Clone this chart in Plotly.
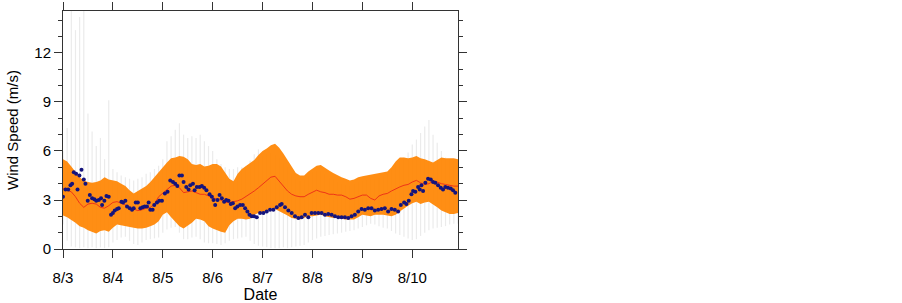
import plotly.graph_objects as go

# ---- data (hours since 8/3 00:00, wind speed m/s) ----
day_labels = ["8/3", "8/4", "8/5", "8/6", "8/7", "8/8", "8/9", "8/10"]
day_hours = [0, 24, 48, 72, 96, 120, 144, 168]

band_hours = list(range(0, 191, 2))

ens_upper = [
    5.5, 5.35, 5.05, 4.75, 4.4, 4.2, 4.1, 4.05, 4.1, 4.2, 4.4, 4.25,
    4.2, 4.15, 4.0, 3.85, 3.6, 3.4, 3.55, 3.7, 3.85, 4.1, 4.4, 4.75,
    5.0, 5.3, 5.55, 5.6, 5.7, 5.65, 5.5, 5.2, 5.15, 5.2, 5.05, 5.1,
    5.2, 5.2, 5.05, 4.7, 4.3, 4.15, 4.6, 4.9, 5.1, 5.3, 5.45, 5.75,
    6.0, 6.15, 6.35, 6.45, 6.2, 5.85, 5.45, 5.0, 4.65, 4.5, 4.5, 4.75,
    4.95, 5.1, 5.15, 4.95, 4.8, 4.65, 4.5, 4.4, 4.3, 4.2, 4.25, 4.4,
    4.45, 4.5, 4.55, 4.6, 4.65, 4.7, 4.75, 5.0, 5.35, 5.6, 5.6, 5.55,
    5.6, 5.7, 5.55, 5.5, 5.4, 5.3, 5.45, 5.6, 5.55, 5.55, 5.55, 5.5,
]
ens_lower = [
    2.05, 1.95, 1.8, 1.6, 1.4, 1.3, 1.15, 1.05, 0.95, 1.1, 1.15, 1.05,
    1.3, 1.5, 1.45, 1.4, 1.35, 1.3, 1.25, 1.25, 1.3, 1.4, 1.5, 1.7,
    2.1, 2.25, 1.95, 1.65, 1.4, 1.25, 1.4, 1.6, 1.85, 1.8, 1.7, 1.4,
    1.25, 1.15, 1.05, 1.0, 1.45, 1.7, 1.85, 1.85, 1.8, 1.85, 2.1, 2.2,
    2.25, 2.3, 2.5, 2.45, 2.3, 2.2, 2.05, 1.9, 1.85, 1.8, 1.9, 2.0,
    2.0, 2.05, 2.1, 2.0, 1.95, 1.9, 1.9, 1.85, 1.8, 1.8, 1.8, 1.95,
    2.1, 2.05, 2.0, 2.1, 2.1, 2.1, 2.05, 2.0, 2.1, 2.3, 2.5, 2.65,
    2.8, 2.9, 2.75, 2.85, 2.9, 2.75, 2.55, 2.35, 2.25, 2.15, 2.15, 2.2,
]
ens_mean = [
    3.7, 3.6, 3.5, 3.2, 2.8, 2.55, 2.75, 2.8, 2.75, 2.55, 2.5, 2.65,
    2.85, 2.9, 2.8, 2.7, 2.55, 2.45, 2.35, 2.4, 2.5, 2.55, 2.75, 3.2,
    3.4, 3.6, 3.85, 3.9, 3.75, 3.45, 3.5, 3.55, 3.45, 3.35, 3.35, 3.25,
    3.15, 3.05, 3.0, 2.85, 2.85, 2.9, 2.95, 3.05, 3.2, 3.35, 3.55, 3.75,
    3.95, 4.15, 4.4, 4.45, 4.15, 3.85, 3.55, 3.35, 3.25, 3.2, 3.2, 3.35,
    3.45, 3.6, 3.5, 3.45, 3.35, 3.35, 3.3, 3.3, 3.2, 3.05, 3.1, 3.2,
    3.3, 3.3, 3.1, 3.0, 3.25, 3.35, 3.4, 3.55, 3.7, 3.8, 3.9, 3.95,
    4.1, 4.2, 4.05, 3.95, 4.0, 4.15, 4.1, 4.0, 3.95, 3.9, 3.85, 3.85,
]
member_max = [
    6.0, 7.4, 15.0, 13.4, 14.2, 15.0, 8.3, 7.2, 6.3, 6.8, 5.5, 9.1,
    4.9, 4.7, 4.5, 4.4, 4.3, 4.2, 4.3, 4.4, 4.6, 4.7, 4.9, 5.1,
    5.5, 6.6, 6.9, 7.3, 7.7, 7.0, 6.8, 6.9, 6.8, 7.0, 6.6, 6.3,
    6.0, 5.5, 5.2, 5.0, 4.9, 4.9, 5.0, 5.0, 5.1, 5.4, 5.8, 6.1,
    5.7, 5.8, 5.9, 5.8, 5.6, 5.3, 5.0, 4.6, 4.3, 4.2, 4.3, 4.5,
    4.7, 4.8, 4.8, 4.6, 4.4, 4.3, 4.1, 4.0, 3.9, 3.9, 4.0, 4.1,
    4.2, 4.2, 4.3, 4.3, 4.4, 4.5, 4.6, 4.9, 5.2, 5.4, 5.6, 5.9,
    6.4, 6.7, 7.1, 7.5, 7.9, 7.0, 6.5, 6.0, 5.6, 5.5, 5.4, 5.3,
]
member_min = [
    1.5, 0.5, 0.15, 0.1, 0.05, 0.1, 0.05, 0.1, 0.05, 0.1, 0.05, 0.1,
    0.4, 0.55, 0.7, 0.75, 0.5, 0.3, 0.25, 0.4, 0.55, 0.6, 0.65, 0.7,
    1.0, 1.2, 1.3, 1.35, 1.0, 0.6, 0.6, 0.7, 0.75, 0.6, 0.4, 0.35,
    0.35, 0.3, 0.25, 0.35, 0.5, 0.6, 0.65, 0.7, 0.75, 0.5, 0.3, 0.2,
    0.15, 0.1, 0.05, 0.05, 0.05, 0.1, 0.05, 0.1, 0.15, 0.2, 0.25, 0.4,
    0.55, 0.65, 0.75, 0.8, 0.85, 0.9, 0.95, 1.0, 1.05, 1.1, 1.15, 1.25,
    1.35, 1.45, 1.55, 1.5, 1.4, 1.3, 1.25, 1.1, 0.95, 0.85, 0.75, 0.65,
    0.55, 0.6, 0.8, 1.0, 1.15, 1.25, 1.3, 1.35, 1.4, 1.5, 1.55, 1.55,
]

obs_hours = [
    0.0, 1.2, 2.5, 3.6, 4.4, 5.2, 6.3, 7.0, 7.9, 8.9, 10.0, 10.8, 11.9, 12.9,
    14.0, 15.1, 16.0, 17.2, 18.3, 18.8, 19.9, 20.9, 22.0, 23.1, 24.0, 24.9,
    26.0, 26.8, 28.1, 28.9, 30.0, 30.8, 32.1, 33.2, 34.0, 35.0, 36.0, 37.2,
    38.3, 39.3, 40.4, 41.2, 42.0, 43.1, 43.9, 45.2, 46.3, 47.6,
    49.0, 50.3, 51.6, 52.9, 54.0, 55.0, 56.0, 57.2, 58.0, 59.3, 60.4, 61.2,
    62.5, 63.3, 64.4, 65.7, 66.8, 67.9, 69.0, 70.5, 71.6, 72.4, 73.2, 74.3,
    75.3, 76.4, 77.5, 78.5, 79.6, 80.7, 81.7, 82.8, 83.9, 85.2, 86.5, 87.6,
    88.7, 89.7, 90.8, 91.9, 93.2,
    94.8, 96.4, 98.0, 99.6, 101.2, 102.8, 104.4, 105.2, 106.8, 108.4, 110.0,
    111.6, 113.2, 114.8, 116.4, 118.0, 119.6, 121.2, 122.8, 124.4, 126.0,
    127.6, 129.2, 130.8, 132.4, 134.0, 135.6, 137.2, 138.8, 140.4, 142.0,
    143.6, 145.2, 146.8,
    148.4, 150.0, 151.6, 153.2, 154.8, 156.4, 158.0, 159.6, 161.2, 162.5,
    164.1, 165.2, 166.3, 167.6, 168.4, 169.5, 170.8, 171.6, 172.4, 173.2,
    174.3, 175.6, 176.9, 178.0, 179.1, 180.4, 181.7, 182.8, 183.9, 185.2,
    186.5, 187.6, 188.7,
]
obs_speed = [
    3.2, 3.65, 3.65, 3.9, 4.0, 4.7, 4.6, 3.65, 4.5, 4.85, 4.25, 4.0, 2.95, 3.3,
    3.1, 3.05, 2.95, 3.0, 3.1, 2.7, 2.95, 3.25, 3.2, 2.1, 2.2, 2.35,
    2.45, 2.5, 2.9, 2.85, 2.95, 2.6, 2.5, 2.4, 2.5, 2.85, 2.85, 2.5,
    2.55, 2.6, 2.6, 2.85, 2.4, 2.4, 2.7, 2.85, 2.95, 2.95,
    3.4, 3.5, 4.2, 4.1, 4.0, 3.85, 4.5, 4.5, 4.1, 3.8, 3.65, 3.9,
    4.0, 3.6, 3.8, 3.8, 3.85, 3.75, 3.6, 3.35, 3.2, 3.0, 2.7, 3.0,
    3.3, 3.1, 2.9, 3.0, 2.95, 2.75, 2.8, 2.5, 2.6, 2.7, 2.7, 2.5,
    2.3, 2.1, 2.0, 2.0, 1.95,
    2.2, 2.2, 2.3, 2.4, 2.4, 2.55, 2.7, 2.75, 2.55, 2.35, 2.2,
    2.0, 1.9, 1.95, 2.1, 1.95, 2.2, 2.2, 2.2, 2.2, 2.1,
    2.15, 2.1, 2.0, 1.95, 1.95, 1.95, 1.9, 2.0, 2.1, 2.3,
    2.45, 2.4, 2.5,
    2.5, 2.35, 2.4, 2.45, 2.5, 2.3, 2.45, 2.4, 2.3, 2.7,
    2.85, 2.75, 2.95, 3.35, 3.55, 3.5, 3.8, 3.65, 3.9, 3.55,
    4.05, 4.3, 4.25, 4.1, 4.05, 3.9, 3.75, 3.65, 3.8, 3.75,
    3.7, 3.6, 3.45,
]

# ---- figure ----
fig = go.Figure()

# member spread: thin light-gray vertical bars
bx, by = [], []
for h, lo, hi in zip(band_hours, member_min, member_max):
    bx += [h, h, None]
    by += [lo, hi, None]
fig.add_trace(go.Scatter(x=bx, y=by, mode="lines",
                         line=dict(color="#ebebeb", width=1.2),
                         hoverinfo="skip", showlegend=False))

# ensemble band
fig.add_trace(go.Scatter(x=band_hours + band_hours[::-1],
                         y=ens_upper + ens_lower[::-1],
                         fill="toself", fillcolor="rgba(255,132,0,0.92)",
                         line=dict(width=0), mode="lines",
                         hoverinfo="skip", showlegend=False))

# ensemble mean
fig.add_trace(go.Scatter(x=band_hours, y=ens_mean, mode="lines",
                         line=dict(color="#ee3418", width=1),
                         showlegend=False))

# observations
fig.add_trace(go.Scatter(x=obs_hours, y=obs_speed, mode="markers",
                         marker=dict(color="#14147d", size=4),
                         showlegend=False))

font_family = "Liberation Sans, Arial, Helvetica, sans-serif"

fig.update_layout(
    width=902, height=303,
    margin=dict(l=62.5, r=444, t=11, b=54),
    plot_bgcolor="white", paper_bgcolor="white",
    font=dict(family=font_family, size=15, color="black"),
    showlegend=False,
)
fig.update_xaxes(
    range=[0, 190], tickvals=day_hours, ticktext=day_labels,
    showgrid=False, zeroline=False, automargin=False,
    showline=True, linecolor="#333333", linewidth=1, mirror="allticks",
    ticks="outside", ticklen=8, tickcolor="#333333", tickwidth=1,
    tickfont=dict(size=15), ticklabelstandoff=7,
    title=dict(text="Date", font=dict(size=16), standoff=8),
)
fig.update_yaxes(
    range=[0, 14.57], tickvals=[0, 3, 6, 9, 12],
    showgrid=False, zeroline=False, automargin=False,
    showline=True, linecolor="#333333", linewidth=1, mirror="allticks",
    ticks="outside", ticklen=8, tickcolor="#333333", tickwidth=1,
    minor=dict(dtick=1, ticks="outside", ticklen=4, tickcolor="#333333", showgrid=False),
    tickfont=dict(size=15),
    title=dict(text="Wind Speed (m/s)", font=dict(size=15), standoff=12),
)

fig.write_html(
    "out.html",
    config={"displayModeBar": False},
    post_script="document.body.style.margin='0px';document.body.style.padding='0px';",
)
